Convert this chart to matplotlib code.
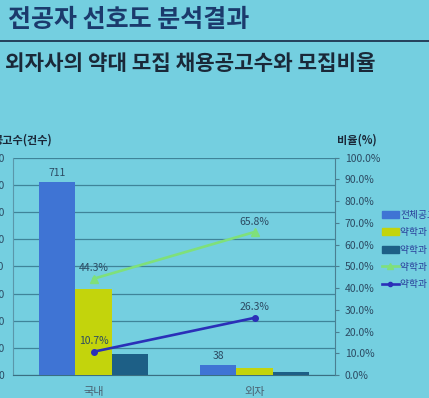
import numpy as np
import matplotlib
matplotlib.use("Agg")
import matplotlib.pyplot as plt
from matplotlib.patches import Patch
from matplotlib.lines import Line2D

plt.rcParams['font.family'] = ['Noto Sans CJK KR', 'DejaVu Sans']

# 데이터 (사진에서 읽은 값)
categories = ['국내', '외자']
total_posts = [711, 38]
pharm_posts = [315, 25]
pharm_only_posts = [76, 10]
pharm_ratio = [44.3, 65.8]
pharm_only_ratio = [10.7, 26.3]
series_names = ['전체공고수', '약학과 포함 공고수', '약학과 단독 공고수',
                '약학과 포함 비율', '약학과 단독 비율']
left_ticks = [0, 100, 200, 300, 400, 500, 600, 700, 800]
right_ticks = [0, 10, 20, 30, 40, 50, 60, 70, 80, 90, 100]

bg = '#74cfe0'
c_total = '#3f74d4'
c_pharm = '#c3d40c'
c_only = '#1d5f86'
c_ratio = '#7fe07a'
c_only_ratio = '#2b2fb8'
txt = '#2c4a62'

fig = plt.figure(figsize=(4.29, 3.98), dpi=100, facecolor=bg)

# 제목
fig.text(0.018, 1 - 20 / 398, '전공자 선호도 분석결과', fontsize=18, fontweight='bold',
         color='#1b3a6c', va='center', ha='left')
fig.add_artist(Line2D([0, 1], [1 - 41 / 398, 1 - 41 / 398], color='#1e3550', lw=1.3))
fig.text(0.012, 1 - 63 / 398, '외자사의 약대 모집 채용공고수와 모집비율', fontsize=15.3,
         fontweight='bold', color='#1a2838', va='center', ha='left')

ax = fig.add_axes([13 / 429, 1 - 375 / 398, (335 - 13) / 429, (375 - 157.7) / 398])
ax.set_facecolor(bg)
x = np.arange(len(categories))
w = 0.225
b1 = ax.bar(x - w, total_posts, w, color=c_total, zorder=3)
b2 = ax.bar(x, pharm_posts, w, color=c_pharm, zorder=3)
b3 = ax.bar(x + w, pharm_only_posts, w, color=c_only, zorder=3)
for rect, v in zip(b1, total_posts):
    ax.text(rect.get_x() + rect.get_width() / 2, v + 14, str(v), ha='center',
            va='bottom', fontsize=7.5, color=txt)

ax.set_xlim(-0.5, 1.5)
ax.set_ylim(0, 800)
ax.set_yticks(left_ticks)
ax.set_yticklabels([str(t) for t in left_ticks], fontsize=7.5, color=txt)
ax.set_xticks(x)
ax.set_xticklabels(categories, fontsize=8, color='#4a6070')
ax.tick_params(axis='x', length=0, pad=9)
ax.tick_params(axis='y', length=0, pad=6)
ax.grid(axis='y', color='#3f8499', lw=0.9, zorder=0)
for s in ['top', 'right']:
    ax.spines[s].set_visible(False)
ax.spines['left'].set_color('#5a97aa')
ax.spines['bottom'].set_color('#3a6f82')

ax2 = ax.twinx()
ax2.plot(x, pharm_ratio, color=c_ratio, lw=1.9, marker='^', ms=6, zorder=4)
ax2.plot(x, pharm_only_ratio, color=c_only_ratio, lw=1.9, marker='o', ms=4, zorder=4)
for xi, v in zip(x, pharm_ratio):
    ax2.text(xi, v + 2.5, f'{v}%', ha='center', va='bottom', fontsize=7.5, color=txt)
for xi, v in zip(x, pharm_only_ratio):
    ax2.text(xi, v + 2.5, f'{v}%', ha='center', va='bottom', fontsize=7.5, color=txt)
ax2.set_ylim(0, 100)
ax2.set_yticks(right_ticks)
ax2.set_yticklabels([f'{t:.1f}%' for t in right_ticks], fontsize=7.5, color=txt)
ax2.tick_params(axis='y', length=3, color='#4a7f92', pad=4)
for s in ['top', 'left', 'bottom']:
    ax2.spines[s].set_visible(False)
ax2.spines['right'].set_color('#4a7f92')

# 축 제목
fig.text(52 / 429, 1 - 140 / 398, '공고수(건수)', fontsize=8, fontweight='bold',
         color='#1a2838', ha='right', va='center')
fig.text(337 / 429, 1 - 140 / 398, '비율(%)', fontsize=8, fontweight='bold',
         color='#1a2838', ha='left', va='center')

handles = [Patch(color=c_total), Patch(color=c_pharm), Patch(color=c_only),
           Line2D([], [], color=c_ratio, lw=1.9, marker='^', ms=4),
           Line2D([], [], color=c_only_ratio, lw=1.9, marker='o', ms=3)]
fig.legend(handles, series_names, loc='upper left', bbox_to_anchor=(382 / 429, 1 - 210 / 398),
           frameon=False, fontsize=7, labelcolor='#2a3f9a', handlelength=1.7,
           handletextpad=0.2, labelspacing=0.75, borderaxespad=0, borderpad=0)

fig.savefig('out.png', dpi=100, facecolor=bg)
